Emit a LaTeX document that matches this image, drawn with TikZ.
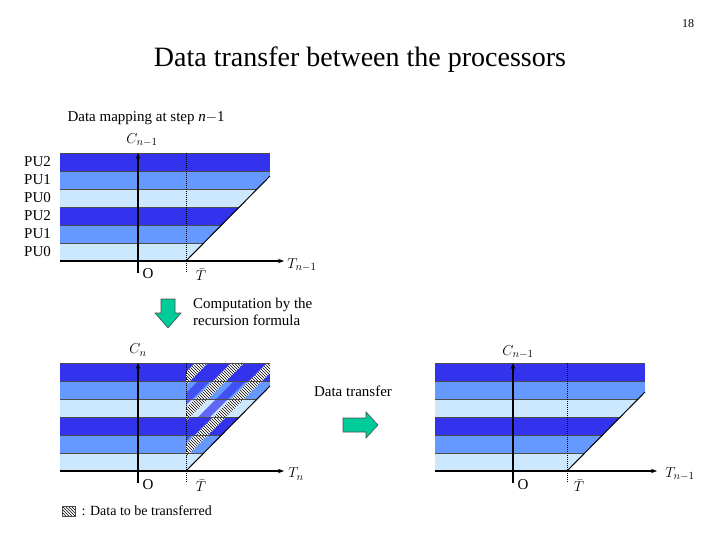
\documentclass[tikz,border=0pt]{standalone}
\usepackage{fontspec}
\setmainfont{Liberation Serif}
\usetikzlibrary{patterns,arrows.meta}
\definecolor{bA}{RGB}{51,51,238}
\definecolor{bB}{RGB}{102,153,255}
\definecolor{bC}{RGB}{204,232,255}
\definecolor{grn}{RGB}{0,204,153}
\tikzset{axis/.style={line width=1.4pt,-{Stealth[length=6pt]}},
 tbar/.style={densely dotted,line width=1pt},
 lbl/.style={font=\fontsize{15}{17}\selectfont},
 hatch/.style={pattern=north west lines,pattern color=black},
 fat/.style={draw=black!70,fill=grn,line width=0.6pt}}
\newcommand{\bands}[3]{% left, top, right
 \foreach \c [count=\i from 0] in {bA,bB,bC,bA,bB,bC}{
  \fill[\c] (#1,#2+18*\i) rectangle (#3,#2+18*\i+18);
  \draw[black!70,line width=0.4pt] (#1,#2+18*\i) -- (#3,#2+18*\i);}}
\begin{document}
\begin{tikzpicture}[x=1pt,y=-1pt]
\useasboundingbox (0,0) rectangle (720,540);
\node[font=\fontsize{12}{14}\selectfont] (pg) at (688,24) {18};
\node[font=\fontsize{28}{32}\selectfont] (title) at (360,60) {Data transfer between the processors};
% top diagram
\begin{scope}
\clip (60,153) -- (270,153) -- (270,176) -- (186,261) -- (60,261) -- cycle;
\bands{60}{153}{270}
\end{scope}
\draw[line width=1pt] (270,176) -- (186,261);
\node[lbl,anchor=west] (map) at (64,118) {Data mapping at step \textit{n}$-$1};
\foreach \t [count=\i from 0] in {PU2,PU1,PU0,PU2,PU1,PU0}
 \node[lbl,anchor=west,inner sep=0] (pu\i) at (24,162+18*\i) {\t};
\coordinate (o1) at (138,273); \coordinate (c1) at (138,153);
\draw[axis] (o1) -- (c1);
\coordinate (a1) at (60,261); \coordinate (e1) at (284,261);
\draw[axis] (a1) -- (e1);
\draw[tbar] (186,153) -- (186,273);
\node[lbl] (C1) at (142,140) {$C_{n-1}$};
\node[lbl] (O1) at (148,274) {O};
\node[lbl] (T1) at (201,275) {$\bar T$};
\node[lbl] (Tn1) at (302,265) {$T_{n-1}$};
% down arrow
\draw[fat] (161,299) -- (175,299) -- (175,313) -- (181,313) -- (168,328) -- (155,313) -- (161,313) -- cycle;
\node[lbl,anchor=north west,align=left,inner sep=0] (comp) at (193,298) {Computation by the\\recursion formula};
% bottom-left diagram
\begin{scope}
\clip (60,363) -- (270,363) -- (270,386) -- (186,471) -- (60,471) -- cycle;
\bands{60}{363}{270}
\foreach \d in {30,66}
 \fill[bA,opacity=0.7] (186,471-\d) -- (186,471-\d-12) -- (306,351-\d-12) -- (306,351-\d) -- cycle;
\foreach \d in {14,50,86}{
 \fill[white] (186,471-\d) -- (186,471-\d-13) -- (306,351-\d-13) -- (306,351-\d) -- cycle;
 \fill[hatch] (186,471-\d) -- (186,471-\d-13) -- (306,351-\d-13) -- (306,351-\d) -- cycle;}
\foreach \i in {0,...,5}
  \draw[black!70,line width=0.4pt] (60,363+18*\i) -- (270,363+18*\i);
\end{scope}
\draw[line width=1pt] (270,386) -- (186,471);
\draw[axis] (138,483) -- (138,363);
\draw[axis] (60,471) -- (284,471);
\draw[tbar] (186,363) -- (186,483);
\node[lbl] (C2) at (138,350) {$C_{n}$};
\node[lbl] (O2) at (148,485) {O};
\node[lbl] (T2) at (201,486) {$\bar T$};
\node[lbl] (Tn2) at (296,474) {$T_{n}$};
\fill[white] (62,506) rectangle (75,516);
\fill[hatch] (62,506) rectangle (75,516);
\draw[black!70,line width=0.4pt] (62,506) rectangle (75,516);
\node[lbl,anchor=west,font=\fontsize{14}{16}\selectfont] (leg) at (78,511) {: Data to be transferred};
% transfer arrow
\node[lbl] (dt) at (353,391) {Data transfer};
\draw[fat] (343,418) -- (366,418) -- (366,412) -- (378,425) -- (366,438) -- (366,432) -- (343,432) -- cycle;
% right diagram
\begin{scope}
\clip (435,363) -- (645,363) -- (645,392) -- (567,471) -- (435,471) -- cycle;
\bands{435}{363}{645}
\end{scope}
\draw[line width=1pt] (645,392) -- (567,471);
\draw[axis] (513,483) -- (513,363);
\draw[axis] (435,471) -- (657,471);
\draw[tbar] (567,363) -- (567,483);
\node[lbl] (C3) at (518,352) {$C_{n-1}$};
\node[lbl] (O3) at (523,485) {O};
\node[lbl] (T3) at (579,486) {$\bar T$};
\node[lbl] (Tn3) at (680,474) {$T_{n-1}$};
\end{tikzpicture}
\end{document}
